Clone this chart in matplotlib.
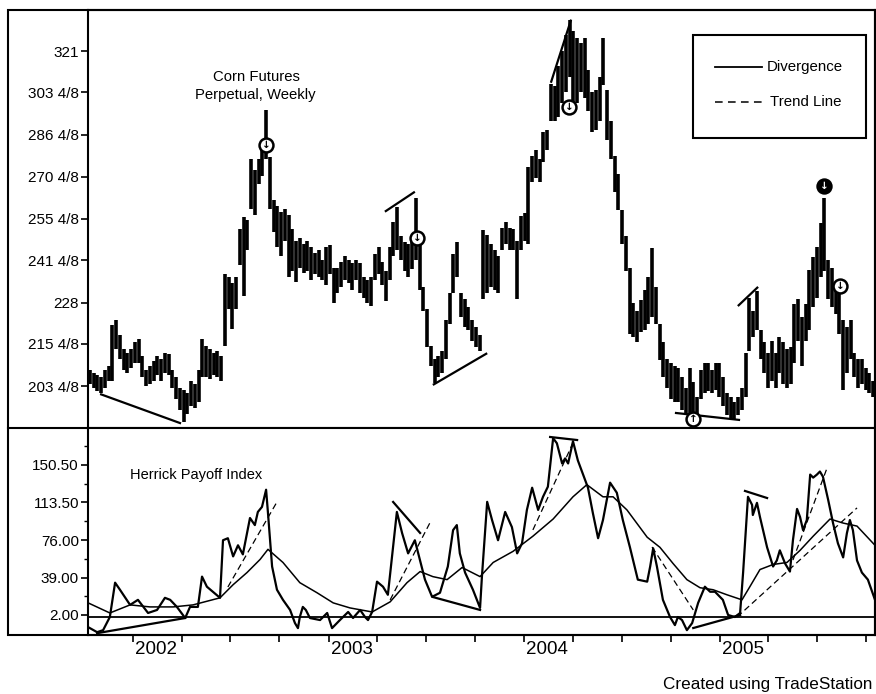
import numpy as np
import pandas as pd
import matplotlib
matplotlib.use("Agg")
import matplotlib.pyplot as plt
from matplotlib.patches import Rectangle
from matplotlib.lines import Line2D
from matplotlib.ticker import FixedLocator, NullLocator

plt.rcParams['font.family'] = ['Liberation Sans', 'DejaVu Sans']

# ---------------- data ----------------
start_date = "2001-10-12"   # first weekly bar

low = [204, 203, 202, 201.5, 203, 205, 205, 214, 211, 208,
       207, 208.5, 210, 210, 206, 203.5, 204, 205, 206.5, 205,
       207, 206.5, 203, 200, 197, 193.8, 196, 198, 197.5, 199,
       206, 206, 205.5, 206.5, 206, 205, 215, 226, 220, 226,
       240, 230, 245, 259, 257, 268, 271, 277, 259, 251,
       246, 243, 248, 236, 238, 234.5, 239, 237.5, 238, 235,
       237, 236, 235, 233.5, 237, 228, 231, 233, 235, 234,
       232, 235, 231, 229.5, 228, 227, 235, 237, 233.5, 228.5,
       235, 243, 245, 241.5, 238, 236, 238.5, 241.5, 232, 225.5,
       214.5, 209, 204.4, 206, 207, 211, 221.5, 231, 236, 223.5,
       220.5, 219.5, 216.5, 214.5, 213.5, 229, 231, 233, 232, 231,
       245, 247, 245, 245, 229, 245, 248, 247, 268.5, 270,
       268.5, 276, 280.7, 292, 292, 293.5, 299, 303.5, 310, 296,
       299, 303.5, 301, 296, 287.5, 288.5, 292, 306.5, 284.5, 277,
       265, 258.5, 247, 238, 218.5, 217.5, 216, 219, 219.5, 221.5,
       223.5, 221.5, 210.8, 206, 203, 200, 199, 199, 197, 195.5,
       194, 192.5, 194, 200, 201.5, 202, 201.5, 202.5, 200.5, 198,
       195.5, 194.5, 194.5, 195.5, 197, 200.5, 213.5, 217.5, 219.5, 211,
       207, 203, 205, 203, 207, 204, 203, 204, 210, 216.5,
       209, 216.5, 219.5, 226.5, 229.5, 236, 238, 229, 226.5, 224.5,
       218.5, 202.5, 207, 211, 206, 203, 204, 202.5, 201.5, 200.5]

high = [208, 207, 206.5, 206, 208, 209, 221, 222.5, 218, 214,
        213, 214, 216, 217, 212, 208, 209, 210.5, 212, 211,
        213, 212.5, 208, 206, 203, 202.5, 201.5, 205, 204, 208,
        217, 215, 214, 213, 213.5, 212, 237, 236, 234, 236,
        252, 256, 255, 277, 273, 277, 281, 296.4, 278, 262,
        260, 258, 259, 257, 252, 248, 249, 247, 248, 246,
        244, 245, 241.5, 246, 246.5, 239, 239, 241, 243, 241.5,
        240.5, 241.5, 240.5, 236, 235, 236, 243.5, 246, 241, 238,
        246, 254.5, 259.5, 249.5, 247.5, 247, 249, 263, 247, 233,
        226, 215, 211, 212, 213.5, 222.5, 231, 243.5, 247.7, 231,
        229, 226.5, 222.5, 220.5, 218, 251.7, 250, 247, 245, 243,
        252.5, 254.5, 252.5, 252, 248, 256.5, 257.5, 274, 278.5, 280.7,
        277, 287.5, 288.5, 307, 306, 314.5, 321, 328, 335, 330,
        327, 324.5, 327, 313, 303.5, 304.5, 310, 327, 304.5, 292,
        278.5, 271.5, 258.7, 249.5, 239, 228, 225.5, 228.8, 232, 236,
        245.6, 233, 221.5, 216, 211, 210, 209, 208.5, 206, 203,
        208.5, 204.5, 200.5, 208, 210, 210, 208, 210, 210, 206,
        201.5, 200.5, 199, 200.5, 203, 213, 229.5, 225.5, 231.5, 219.5,
        216, 213, 216.5, 213, 217.5, 216, 214, 214.5, 227.5, 229,
        223.5, 227.5, 238.3, 242.5, 246, 254, 263, 241.5, 239, 232,
        231, 222.5, 220.5, 222.5, 213, 211, 211, 208.5, 207, 205]

price_ticks = [203.5, 215.5, 228, 241.5, 255.5, 270.5, 286.5, 303.5, 321]
price_labels = ["203 4/8", "215 4/8", "228", "241 4/8", "255 4/8",
                "270 4/8", "286 4/8", "303 4/8", "321"]

# Herrick Payoff Index (week offset, value)
hpi_week = [-0.5, 1.9, 3.5, 5.3, 6.7, 8.0, 10.7, 12.8, 15.5, 17.9,
            20.0, 21.4, 23.2, 25.4, 26.7, 28.8, 29.9, 31.2, 34.7, 35.5,
            36.8, 38.2, 39.5, 40.8, 42.7, 44.0, 44.8, 45.9, 47.0, 47.5,
            48.6, 49.9, 51.5, 53.4, 54.7, 55.5, 56.0, 56.8, 57.6, 58.7,
            61.4, 63.3, 64.6, 66.7, 68.9, 70.2, 72.1, 73.4, 74.2, 75.3,
            76.6, 78.2, 79.5, 81.9, 83.3, 84.9, 86.7, 88.1, 89.4, 91.3,
            93.4, 95.5, 96.9, 97.9, 98.7, 100.1, 102.2, 104.1, 104.6, 106.0,
            107.3, 108.9, 110.8, 112.6, 114.0, 115.3, 116.6, 118.0, 119.6, 120.9,
            122.2, 123.6, 124.6, 126.0, 126.8, 127.6, 128.9, 130.2, 131.6, 132.9,
            134.2, 135.6, 136.9, 138.8, 140.6, 142.2, 144.1, 146.2, 148.7, 149.5,
            150.3, 151.3, 152.9, 154.8, 156.1, 156.9, 158.0, 159.3, 160.7, 162.3,
            164.1, 165.5, 166.8, 168.9, 170.3, 172.1, 173.5, 174.3, 175.6, 176.7,
            176.9, 178.0, 178.8, 180.7, 182.3, 183.3, 184.1, 185.5, 186.8, 187.6,
            188.7, 189.5, 190.3, 191.3, 192.2, 193.0, 194.0, 194.8, 195.6, 197.0,
            198.3, 199.6, 201.0, 202.0, 202.8, 203.6, 204.7, 206.0, 207.6, 209.5]
hpi_val = [-10, -15, -13, 0, 34, 27, 12, 17, 4, 7,
           19, 17, 10, -1, 10, 10, 40, 30, 19, 76,
           78, 60, 71, 62, 98, 91, 104, 109, 126, 103,
           50, 27, 17, 7, -6, -11, 0, 10, 7, -1,
           -3, 4, -11, -3, 5, -1, 7, 0, -3, 5,
           35, 30, 22, 104, 83, 63, 76, 56, 37, 20,
           24, 50, 86, 91, 63, 44, 27, 9, 40, 114,
           96, 76, 104, 89, 63, 73, 106, 128, 106, 119,
           129, 177, 172, 152, 157, 152, 174, 155, 141, 128,
           103, 78, 96, 133, 123, 96, 69, 37, 35, 50,
           68, 50, 17, 0, -8, 0, -3, -13, -6, 14,
           30, 25, 25, 17, 2, 0, 4, 44, 119, 111,
           101, 113, 99, 69, 50, 56, 66, 53, 45, 76,
           107, 99, 86, 96, 141, 138, 141, 144, 139, 116,
           93, 73, 59, 83, 96, 86, 56, 44, 37, 17]

# smoothed HPI (moving average)
ma_week = [-0.5, 5.3, 10.7, 16.0, 22.2, 27.5, 34.7, 38.2, 41.9, 45.4,
           47.5, 51.5, 56.0, 60.6, 64.9, 69.4, 75.3, 80.1, 84.6, 88.1,
           91.5, 95.3, 99.3, 104.1, 107.6, 112.9, 118.2, 123.6, 128.9, 132.6,
           136.9, 139.6, 143.3, 148.7, 152.1, 155.6, 159.3, 162.8, 166.3, 170.0,
           174.0, 176.1, 178.8, 182.3, 186.0, 189.5, 193.0, 197.5, 201.0, 204.7,
           209.5]
ma_val = [14, 4, 12, 10, 10, 12, 19, 32, 44, 57,
          67, 54, 34, 24, 14, 9, 5, 15, 34, 45,
          40, 37, 49, 40, 54, 65, 80, 97, 119, 131,
          119, 119, 106, 79, 69, 53, 37, 29, 27, 22,
          17, 30, 47, 52, 54, 66, 80, 97, 93, 90,
          71]

hpi_ticks = [2.0, 39.0, 76.0, 113.5, 150.5]
hpi_labels = ["2.00", "39.00", "76.00", "113.50", "150.50"]
hpi_minor = [20.5, 57.5, 94.75, 132.0, 169.0]

# divergence (solid) and trend (dashed) lines: ((week, value), (week, value))
price_div = [((2.7, 201.3), (24.3, 193.4)),
             ((78.7, 258.0), (86.7, 265.1)),
             ((91.5, 203.8), (106.0, 212.8)),
             ((123.0, 307.5), (128.4, 335.1)),
             ((172.9, 226.9), (178.3, 232.9)),
             ((156.1, 196.2), (173.5, 194.3))]
hpi_div = [((1.9, -16), (25.4, -1)),
           ((80.9, 113.9), (88.1, 83.2)),
           ((91.5, 19.8), (104.1, 7)),
           ((122.8, 178.2), (130.0, 175.2)),
           ((161.0, -10.9), (173.5, 2)),
           ((174.8, 124.8), (180.7, 117.8))]
hpi_trend = [((36.8, 29.7), (49.9, 113.9)),
             ((80.1, 16.9), (90.7, 93.1)),
             ((118.2, 86.2), (128.9, 172.3)),
             ((150.0, 69.3), (161.0, 7)),
             ((172.7, 0), (204.7, 108)),
             ((187.6, 56.4), (196.7, 147.5))]

# signal circles: (week, price, arrow, filled)
signals = [(47.0, 282.6, "down", False),
           (87.3, 249.0, "down", False),
           (127.8, 297.6, "down", False),
           (195.9, 267.2, "down", True),
           (200.2, 233.2, "down", False),
           (161.0, 194.7, "up", False)]

years = ["2002", "2003", "2004", "2005"]

# ---------------- figure ----------------
W, H = 876, 694
fig = plt.figure(figsize=(W / 100, H / 100), dpi=100)


def fx(px):
    return px / W


def fy(py):
    return 1 - py / H


ax1 = fig.add_axes([fx(88), fy(428), fx(875) - fx(88), fy(10) - fy(428)])
ax2 = fig.add_axes([fx(88), fy(635), fx(875) - fx(88), fy(428) - fy(635)])

start = pd.Timestamp(start_date)
weeks = np.arange(len(high))

# price bars
ax1.vlines(weeks, low, high, color="black", lw=2.6)
for (a, b) in price_div:
    ax1.plot([a[0], b[0]], [a[1], b[1]], color="black", lw=1.6,
             solid_capstyle="butt")
for (w, p, d, filled) in signals:
    fc, ac = ("black", "white") if filled else ("white", "black")
    ax1.plot([w], [p], "o", ms=10, mfc=fc, mec="black", mew=1.8, zorder=5)
    ax1.text(w, p, "\u2193" if d == "down" else "\u2191", ha="center",
             va="center", fontsize=7.5, fontweight="bold", color=ac,
             family=["DejaVu Sans"], zorder=6)

ax1.set_yscale("log")
ax1.set_ylim(192.2, 339.5)
ax1.set_xlim(-0.53, 209.5)
ax1.yaxis.set_major_locator(FixedLocator(price_ticks))
ax1.yaxis.set_minor_locator(NullLocator())
ax1.set_yticklabels(price_labels)
ax1.set_xticks([])
ax1.tick_params(axis="y", direction="out", length=5, width=1.2,
                labelsize=11, pad=1.5)

# HPI panel
ax2.axhline(0, color="black", lw=1.3)
ax2.plot(hpi_week, hpi_val, color="black", lw=1.6)
ax2.plot(ma_week, ma_val, color="black", lw=1.1)
for (a, b) in hpi_div:
    ax2.plot([a[0], b[0]], [a[1], b[1]], color="black", lw=1.6)
for (a, b) in hpi_trend:
    ax2.plot([a[0], b[0]], [a[1], b[1]], color="black", lw=0.9,
             dashes=(5, 3))
ax2.set_xlim(-0.53, 209.5)
ax2.set_ylim(-17.8, 187.1)
ax2.set_yticks(hpi_ticks)
ax2.set_yticklabels(hpi_labels)
ax2.set_yticks(hpi_minor, minor=True)
ax2.tick_params(axis="y", which="major", direction="out", length=5,
                width=1.2, labelsize=11, pad=1.5)
ax2.tick_params(axis="y", which="minor", direction="out", length=3,
                width=1.0)

quarters = pd.date_range("2002-01-01", "2005-10-01", freq="QS")
qweeks = [(q - start).days / 7.0 for q in quarters]
ax2.set_xticks(qweeks)
ax2.set_xticklabels([])
ax2.tick_params(axis="x", direction="out", length=5, width=1.2)
for y in years:
    wk = (pd.Timestamp(y + "-01-01") - start).days / 7.0
    ax2.annotate(y, xy=(wk, 0), xycoords=("data", "axes fraction"),
                 xytext=(1.5, -4.0), textcoords="offset points",
                 ha="left", va="top", fontsize=13.5)

for ax in (ax1, ax2):
    for s in ax.spines.values():
        s.set_linewidth(1.5)

# outer frame
fig.patches.append(Rectangle((fx(8), fy(635)), fx(875) - fx(8),
                             fy(10) - fy(635), transform=fig.transFigure,
                             fill=False, lw=1.5, ec="black"))
fig.lines.append(Line2D([fx(8), fx(88)], [fy(428), fy(428)],
                        transform=fig.transFigure, lw=1.5, color="black"))

# texts
fig.text(fx(256), fy(77), "Corn Futures", ha="center", va="center",
         fontsize=10.7)
fig.text(fx(255), fy(95), "Perpetual, Weekly", ha="center", va="center",
         fontsize=10.7)
fig.text(fx(130), fy(475), "Herrick Payoff Index", ha="left", va="center",
         fontsize=10.5)
fig.text(fx(872), fy(684), "Created using TradeStation", ha="right",
         va="center", fontsize=12.3)

# legend box
fig.patches.append(Rectangle((fx(693), fy(138)), fx(866) - fx(693),
                             fy(35) - fy(138), transform=fig.transFigure,
                             fill=True, fc="white", lw=1.5, ec="black",
                             zorder=10))
fig.lines.append(Line2D([fx(715), fx(762)], [fy(67), fy(67)],
                        transform=fig.transFigure, lw=1.3, color="black",
                        zorder=11))
fig.lines.append(Line2D([fx(715), fx(762)], [fy(102), fy(102)],
                        transform=fig.transFigure, lw=1.1, color="black",
                        dashes=(5, 3.5), zorder=11))
fig.text(fx(767), fy(67), "Divergence", ha="left", va="center",
         fontsize=10.8, zorder=12)
fig.text(fx(770), fy(102), "Trend Line", ha="left", va="center",
         fontsize=10.8, zorder=12)

fig.savefig("out.png", dpi=100)
